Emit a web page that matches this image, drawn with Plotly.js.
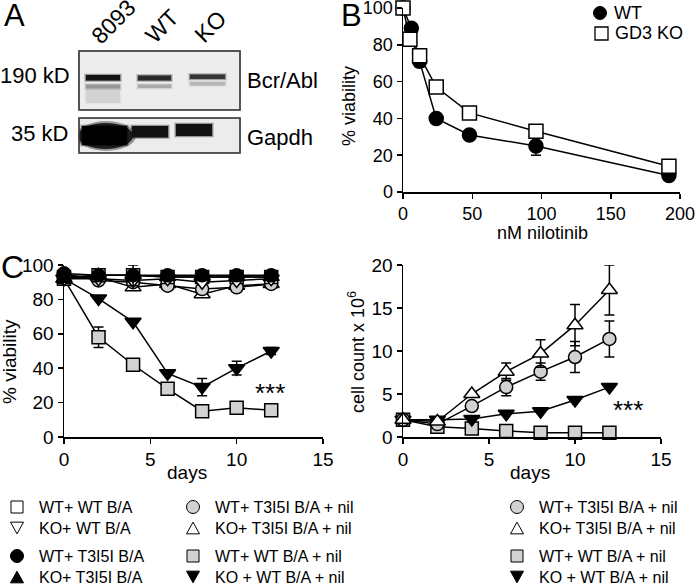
<!DOCTYPE html>
<html><head><meta charset="utf-8">
<script src="https://cdn.plot.ly/plotly-3.0.1.min.js"></script>
<style>html,body{margin:0;padding:0;background:#fff}#plot{width:696px;height:585px}</style>
</head><body><div id="plot"></div>
<script>
// ---------- Panel B data ----------
const nilotinibWT = [0, 6, 12, 24, 48, 96, 192];
const viabilityWT = [100, 89, 71, 40, 31, 25, 9];
const viabilityWTerr = [0, 0, 3, 0, 0, 5, 0];
const nilotinibKO = [0, 5, 12, 24, 48, 96, 192];
const viabilityKO = [100, 83, 74, 57, 43, 33, 14];
const viabilityKOerr = [0, 0, 2.5, 0, 0, 2, 0];

// ---------- Panel C data ----------
const days = [0, 2, 4, 6, 8, 10, 12];
// % viability
const via_WT_WT = [93, 94, 94, 93, 93, 93, 93];
const via_KO_WT = [92, 92, 91, 92, 90, 91, 92];
const via_WT_T315I = [95, 94, 94, 94, 94, 94, 94];
const via_KO_T315I = [92, 94, 94, 93, 93, 93, 93];
const via_KO_T315I_err = [0, 0, 6, 0, 0, 0, 0];
const via_WT_T315I_nil = [95, 91, 90, 88, 86, 87, 89];
const via_KO_T315I_nil = [92, 93, 87, 89, 83, 88, 89];
const via_WT_WT_nil = [92, 58, 42, 28, 15, 17, 15.5];
const via_WT_WT_nil_err = [0, 6, 0, 0, 0, 0, 0];
const via_KO_WT_nil = [92, 80.5, 67, 37, 29, 40, 50];
const via_KO_WT_nil_err = [0, 0, 0, 0, 5, 4, 2];
// cell count x 10^6
const cnt_KO_T315I_nil = [2.0, 1.8, 5.0, 7.6, 9.7, 13.0, 17.1];
const cnt_KO_T315I_nil_err = [0, 0, 0, 1.0, 1.6, 2.4, 2.9];
const cnt_WT_T315I_nil = [2.0, 1.5, 3.6, 5.8, 7.6, 9.3, 11.4];
const cnt_WT_T315I_nil_err = [0, 0, 0, 1.0, 1.0, 1.8, 2.1];
const cnt_KO_WT_nil = [2.0, 2.0, 2.1, 2.7, 3.0, 4.3, 5.8];
const cnt_WT_WT_nil = [2.0, 1.2, 1.0, 0.7, 0.5, 0.5, 0.5];

// ---------- labels ----------
const laneLabels = ['8093', 'WT', 'KO'];
const legendLabels = ['WT+ WT B/A', 'KO+ WT B/A', 'WT+ T3I5I B/A', 'KO+ T3I5I B/A',
                      'WT+ T3I5I B/A + nil', 'KO+ T3I5I B/A + nil', 'WT+ WT B/A + nil', 'KO + WT B/A + nil'];

const W = 696, H = 585;
const px = x => x / W, py = y => 1 - y / H;
const FONT = 'Liberation Sans, Arial, sans-serif';
const GRAY = '#d2d2d2';

function tr(x, y, err, xa, ya, sym, fill, size) {
  return {type: 'scatter', mode: 'lines+markers', x: x, y: y, xaxis: xa, yaxis: ya, cliponaxis: false,
    line: {color: '#000', width: 1.5},
    marker: {symbol: sym, size: size || 13, color: fill, line: {color: '#000', width: 1.5}},
    error_y: {type: 'data', array: err || x.map(() => 0), visible: true, color: '#000', thickness: 1.5, width: 5},
    showlegend: false, hoverinfo: 'skip'};
}

const traces = [
  // Panel B
  tr(nilotinibWT, viabilityWT, viabilityWTerr, 'x', 'y', 'circle', '#000', 14),
  tr(nilotinibKO, viabilityKO, viabilityKOerr, 'x', 'y', 'square', '#fff', 14),
  // Panel C left
  tr(days, via_WT_WT_nil, via_WT_WT_nil_err, 'x2', 'y2', 'square', GRAY, 13),
  tr(days, via_KO_WT_nil, via_KO_WT_nil_err, 'x2', 'y2', 'triangle-down', '#000', 14),
  tr(days, via_KO_T315I_nil, null, 'x2', 'y2', 'triangle-up', '#fff', 14),
  tr(days, via_WT_T315I_nil, null, 'x2', 'y2', 'circle', GRAY, 13),
  tr(days, via_WT_WT, null, 'x2', 'y2', 'square', '#fff', 13),
  tr(days, via_KO_WT, null, 'x2', 'y2', 'triangle-down', '#fff', 14),
  tr(days, via_KO_T315I, via_KO_T315I_err, 'x2', 'y2', 'triangle-up', '#000', 14),
  tr(days, via_WT_T315I, null, 'x2', 'y2', 'circle', '#000', 13),
  // Panel C right
  tr(days, cnt_WT_WT_nil, null, 'x3', 'y3', 'square', GRAY, 13),
  tr(days, cnt_KO_WT_nil, null, 'x3', 'y3', 'triangle-down', '#000', 14),
  tr(days, cnt_WT_T315I_nil, cnt_WT_T315I_nil_err, 'x3', 'y3', 'circle', GRAY, 13),
  tr(days, cnt_KO_T315I_nil, cnt_KO_T315I_nil_err, 'x3', 'y3', 'triangle-up', '#fff', 14)
];

function ax(domain, range, dtick, anchor, fs) {
  return {domain: domain, range: range, dtick: dtick, tick0: 0, anchor: anchor, showgrid: false, zeroline: false,
    showline: true, linecolor: '#000', linewidth: 1.5, ticks: 'outside', ticklen: 5, tickwidth: 1.5, tickcolor: '#000',
    ticklabeloverflow: 'allow',
    tickfont: {family: FONT, size: fs, color: '#000'}, fixedrange: true};
}

// ---------- shapes ----------
function rectP(x0, y0, x1, y1, fill, lc, lw, op) {
  return {type: 'rect', xref: 'paper', yref: 'paper', x0: px(x0), x1: px(x1), y0: py(y1), y1: py(y0),
    fillcolor: fill, opacity: op == null ? 1 : op, line: {color: lc || fill, width: lw || 0}};
}
function ellP(x0, y0, x1, y1, fill, op) {
  return {type: 'circle', xref: 'paper', yref: 'paper', x0: px(x0), x1: px(x1), y0: py(y1), y1: py(y0),
    fillcolor: fill, opacity: op == null ? 1 : op, line: {width: 0}};
}
function circP(cx, cy, r, fill, lw) {
  return {type: 'circle', xref: 'paper', yref: 'paper', x0: px(cx - r), x1: px(cx + r), y0: py(cy + r), y1: py(cy - r),
    fillcolor: fill, line: {color: '#000', width: lw}};
}
function triP(cx, cy, s, up, fill, lw) {
  const h = s * 0.9;
  const pts = up ? [[cx - s / 2, cy + h / 2], [cx + s / 2, cy + h / 2], [cx, cy - h / 2]]
                 : [[cx - s / 2, cy - h / 2], [cx + s / 2, cy - h / 2], [cx, cy + h / 2]];
  return {type: 'path', xref: 'paper', yref: 'paper', path: 'M' + pts.map(p => px(p[0]) + ',' + py(p[1])).join('L') + 'Z',
    fillcolor: fill, line: {color: '#000', width: lw}};
}

const shapes = [];
// soft-edged blot band: stacked translucent rectangles
function band(x0, y0, x1, y1, color, op) {
  shapes.push(rectP(x0 - 2, y0 - 1.6, x1 + 2, y1 + 1.6, color, null, 0, 0.18 * op));
  shapes.push(rectP(x0 - 1, y0 - 0.8, x1 + 1, y1 + 0.8, color, null, 0, 0.35 * op));
  shapes.push(rectP(x0, y0, x1, y1, color, null, 0, op));
}
// blot frames
shapes.push(rectP(79, 51, 240, 110, '#ededed', '#4a4a4a', 1.5));
shapes.push(rectP(79, 118, 240, 153, '#ececec', '#4a4a4a', 1.5));
// upper blot bands (Bcr/Abl)
band(86, 89, 120, 103, '#c4c4c4', 0.5);
band(86, 75, 120, 80.5, '#141414', 1);
band(86, 84.5, 120, 88.5, '#8a8a8a', 0.8);
band(138, 75.5, 171, 80.5, '#2a2a2a', 1);
band(138, 84.5, 171, 88, '#9a9a9a', 0.7);
band(190, 74.5, 225, 79, '#353535', 1);
band(190, 82, 225, 85.5, '#a8a8a8', 0.7);
// lower blot bands (Gapdh)
shapes.push(ellP(76, 121, 136, 151, '#000', 0.35));
shapes.push(ellP(78, 123, 133, 149, '#000', 0.8));
band(82, 126, 127, 145, '#000', 1);
band(132, 126, 168, 137.5, '#111', 1);
band(176, 124, 212, 136, '#111', 1);
// clip strips so bands stay within frame
shapes.push(rectP(60, 153.8, 250, 160, '#fff'));
shapes.push(rectP(60, 110.8, 250, 117.2, '#fff'));
shapes.push(rectP(70, 118, 78.2, 160, '#fff'));
shapes.push(rectP(79, 118, 240, 153, 'rgba(0,0,0,0)', '#4a4a4a', 1.5));
shapes.push(rectP(79, 51, 240, 110, 'rgba(0,0,0,0)', '#4a4a4a', 1.5));

// Panel B legend markers
shapes.push(circP(600, 13, 6.5, '#000', 1));
shapes.push(rectP(595, 27, 608, 40, '#fff', '#000', 1.3));

// bottom legends
const rowsY = [507, 528, 556, 577];
function legMarker(kind, cx, cy) {
  if (kind === 'sqW') return rectP(cx - 6, cy - 6, cx + 6, cy + 6, '#fff', '#000', 1);
  if (kind === 'sqG') return rectP(cx - 6, cy - 6, cx + 6, cy + 6, GRAY, '#000', 1);
  if (kind === 'ciB') return circP(cx, cy, 6.5, '#000', 1);
  if (kind === 'ciG') return circP(cx, cy, 6.5, GRAY, 1);
  if (kind === 'tuB') return triP(cx, cy, 13, true, '#000', 1);
  if (kind === 'tuW') return triP(cx, cy, 13, true, '#fff', 1);
  if (kind === 'tdB') return triP(cx, cy, 13, false, '#000', 1);
  if (kind === 'tdW') return triP(cx, cy, 13, false, '#fff', 1);
}
const legendCols = [
  {mx: 17, tx: 37, kinds: ['sqW', 'tdW', 'ciB', 'tuB'], labels: legendLabels.slice(0, 4)},
  {mx: 193, tx: 213, kinds: ['ciG', 'tuW', 'sqG', 'tdB'], labels: legendLabels.slice(4, 8)},
  {mx: 517, tx: 537, kinds: ['ciG', 'tuW', 'sqG', 'tdB'], labels: legendLabels.slice(4, 8)}
];
const annotations = [];
legendCols.forEach(c => {
  c.kinds.forEach((k, i) => {
    shapes.push(legMarker(k, c.mx, rowsY[i]));
    annotations.push({xref: 'paper', yref: 'paper', x: px(c.tx), y: py(rowsY[i]), xanchor: 'left', yanchor: 'middle',
      text: c.labels[i], showarrow: false, font: {family: FONT, size: 16, color: '#000'}});
  });
});

function ann(text, x, y, size, opts) {
  return Object.assign({xref: 'paper', yref: 'paper', x: px(x), y: py(y), xanchor: 'center', yanchor: 'middle',
    text: text, showarrow: false, font: {family: FONT, size: size, color: '#000'}}, opts || {});
}
annotations.push(ann('A', 14, 15, 31));
annotations.push(ann('B', 351, 15, 31));
annotations.push(ann('C', 12, 267, 32));
annotations.push(ann('190 kD', 72, 76, 22, {xanchor: 'right'}));
annotations.push(ann('35 kD', 70, 134, 22, {xanchor: 'right'}));
annotations.push(ann('Bcr/Abl', 245, 81, 22, {xanchor: 'left'}));
annotations.push(ann('Gapdh', 245, 137, 22, {xanchor: 'left'}));
annotations.push(ann(laneLabels[0], 113, 22, 23, {textangle: -45}));
annotations.push(ann(laneLabels[1], 162, 26, 23, {textangle: -45}));
annotations.push(ann(laneLabels[2], 210, 27, 23, {textangle: -45}));
annotations.push(ann('WT', 612, 13, 18, {xanchor: 'left'}));
annotations.push(ann('GD3 KO', 613, 33, 18, {xanchor: 'left'}));
annotations.push(ann('% viability', 349, 106, 18, {textangle: -90}));
annotations.push(ann('nM nilotinib', 542, 233, 18));
annotations.push(ann('% viability', 9, 362, 19, {textangle: -90}));
annotations.push(ann('days', 187, 472, 19));
annotations.push(ann('cell count x 10<sup>6</sup>', 356, 352, 18, {textangle: -90}));
annotations.push(ann('days', 530, 472, 19));
annotations.push(ann('***', 270, 393, 26));
annotations.push(ann('***', 628, 410, 26));

const layout = {
  width: W, height: H, margin: {l: 0, r: 0, t: 0, b: 0}, paper_bgcolor: '#fff', plot_bgcolor: 'rgba(0,0,0,0)',
  showlegend: false,
  xaxis: ax([px(403), px(680)], [0, 200], 50, 'y', 18),
  yaxis: ax([py(192), py(8)], [0, 100], 20, 'x', 18),
  xaxis2: ax([px(64), px(323)], [0, 15], 5, 'y2', 19),
  yaxis2: ax([py(437), py(265)], [0, 100], 20, 'x2', 19),
  xaxis3: ax([px(403), px(661)], [0, 15], 5, 'y3', 19),
  yaxis3: ax([py(437), py(265)], [0, 20], 5, 'x3', 19),
  shapes: shapes, annotations: annotations
};

Plotly.newPlot('plot', traces, layout, {staticPlot: true});
</script></body></html>
